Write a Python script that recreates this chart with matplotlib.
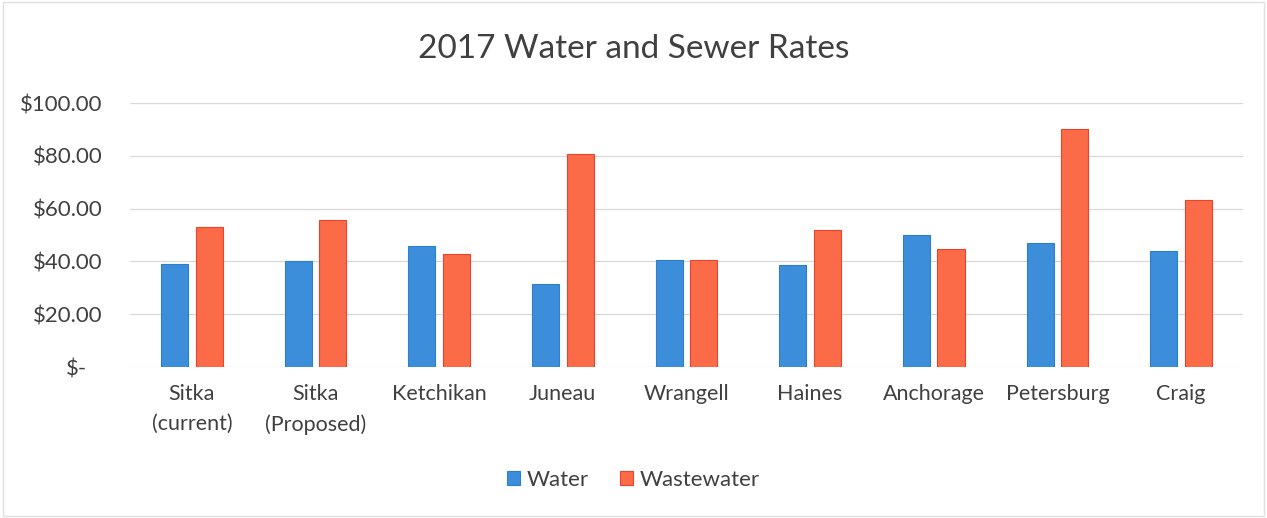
import matplotlib
matplotlib.use("Agg")
import matplotlib.pyplot as plt
import matplotlib.transforms as mtransforms
import numpy as np
from matplotlib.ticker import FuncFormatter

plt.rcParams['font.family'] = ['Lato', 'DejaVu Sans']

categories = ["Sitka\n(current)", "Sitka\n(Proposed)", "Ketchikan", "Juneau", "Wrangell",
              "Haines", "Anchorage", "Petersburg", "Craig"]
water = [39.0, 40.2, 45.8, 31.6, 40.4, 38.8, 49.9, 47.1, 44.1]
wastewater = [53.2, 55.6, 42.7, 80.8, 40.4, 51.9, 44.7, 90.3, 63.1]
yticks = [0, 20, 40, 60, 80, 100]

fig = plt.figure(figsize=(12.67, 5.18), dpi=100)
ax = fig.add_axes([0.1026, 0.2915, 0.8784, 0.5095])

x = np.arange(len(categories))
w = 0.22
off = 0.14
ax.bar(x - off, water, w, color="#3C8EDA", edgecolor="#2A7FD0", linewidth=0.8, label="Water", zorder=3)
ax.bar(x + off, wastewater, w, color="#FB6B47", edgecolor="#E9432C", linewidth=0.8, label="Wastewater", zorder=3)

ax.set_xlim(-0.5, len(categories) - 0.5)
ax.set_ylim(0, 100)
ax.set_yticks(yticks)
ax.yaxis.set_major_formatter(FuncFormatter(lambda v, p: "$-" if v == 0 else f"${v:,.2f}"))
ax.grid(axis="y", color="#D9D9D9", linewidth=0.9, zorder=0)
ax.set_axisbelow(True)
for s in ax.spines.values():
    s.set_visible(False)
ax.tick_params(axis="y", length=0, labelsize=16, colors="#404040", pad=20)
ax.tick_params(axis="x", length=0, labelsize=15.5, colors="#404040", pad=12)
ax.set_xticks(x)
ax.set_xticklabels(categories, fontsize=15.5, color="#404040", linespacing=1.65)

# shift the "$-" label left like Excel's accounting format
zero_tick = ax.yaxis.get_major_ticks()[0]
zero_tick.label1.set_transform(zero_tick.label1.get_transform() +
                               mtransforms.ScaledTranslation(-15 / 100, 0, fig.dpi_scale_trans))

fig.text(0.5, 0.905, "2017 Water and Sewer Rates", ha="center", va="center", fontsize=24, color="#404040")

leg = fig.legend(loc="center", bbox_to_anchor=(0.5, 0.073), ncol=2, frameon=False, fontsize=16,
                 handlelength=0.6, handleheight=0.6, handletextpad=0.3, columnspacing=1.4)
for t in leg.get_texts():
    t.set_color("#404040")

fig.patches.append(plt.Rectangle((0.002, 0.004), 0.996, 0.992, transform=fig.transFigure,
                                 fill=False, edgecolor="#E0E0E0", linewidth=1.0))

fig.savefig("out.png", dpi=100, facecolor="white")
